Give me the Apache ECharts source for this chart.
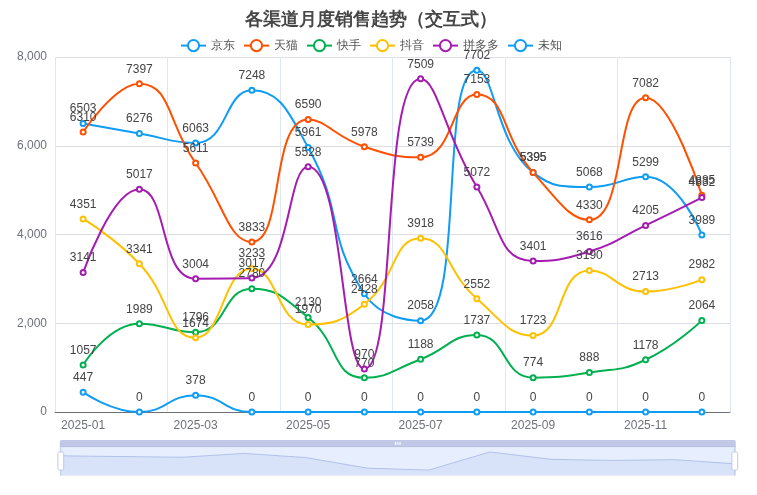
<!DOCTYPE html>
<html>
<head>
    <meta charset="utf-8">
    <script src="https://cdn.jsdelivr.net/npm/echarts@6/dist/echarts.min.js"></script>
    <style type="text/css">
        html, body { margin: 0; padding: 0; }
        #main {
            width: 742px;
            height: 495px;
        }
    </style>
</head>
<body>
    <div id="main"></div>
    <script>
        // 月份
        const months = ['2025-01', '2025-02', '2025-03', '2025-04', '2025-05', '2025-06',
            '2025-07', '2025-08', '2025-09', '2025-10', '2025-11', '2025-12'];
        // 各渠道数据
        const jd = [6503, 6276, 6063, 7248, 5961, 2664, 2058, 7702, 5395, 5068, 5299, 3989];
        const tmall = [6310, 7397, 5611, 3833, 6590, 5978, 5739, 7153, 5395, 4330, 7082, 4885];
        const kuaishou = [1057, 1989, 1796, 2780, 2130, 770, 1188, 1737, 774, 888, 1178, 2064];
        const douyin = [4351, 3341, 1674, 3233, 1970, 2428, 3918, 2552, 1723, 3190, 2713, 2982];
        const pdd = [3141, 5017, 3004, 3017, 5528, 970, 7509, 5072, 3401, 3616, 4205, 4832];
        const unknown = [447, 0, 378, 0, 0, 0, 0, 0, 0, 0, 0, 0];

        const channels = [
            { name: '京东', data: jd, color: '#0f9cf5' },
            { name: '天猫', data: tmall, color: '#ff5000' },
            { name: '快手', data: kuaishou, color: '#00b050' },
            { name: '抖音', data: douyin, color: '#ffc000' },
            { name: '拼多多', data: pdd, color: '#a41cb0' },
            { name: '未知', data: unknown, color: '#0f9cf5' }
        ];

        const myChart = echarts.init(document.getElementById('main'));

        myChart.setOption({
            animation: false,
            title: {
                text: '各渠道月度销售趋势（交互式）',
                left: 'center',
                top: 6,
                textStyle: { fontSize: 18, fontWeight: 'bold', color: '#464646' }
            },
            tooltip: { trigger: 'axis' },
            legend: {
                top: 34,
                data: channels.map(c => c.name),
                textStyle: { color: '#555', fontSize: 12 }
            },
            grid: { left: 55, right: 12, top: 57, bottom: 83 },
            xAxis: {
                type: 'category',
                data: months,
                axisTick: { show: false },
                axisLine: { lineStyle: { color: '#6e7079' } },
                axisLabel: { interval: 1, color: '#6e7079', fontSize: 12 },
                splitLine: { show: true, interval: 1, lineStyle: { color: '#e0e6f1' } }
            },
            yAxis: {
                type: 'value',
                min: 0,
                max: 8000,
                interval: 2000,
                axisLabel: { color: '#6e7079' }
            },
            dataZoom: [
                { type: 'inside' },
                { type: 'slider', left: 57, right: 9, top: 440, height: 29 }
            ],
            series: channels.map(c => ({
                name: c.name,
                type: 'line',
                smooth: true,
                data: c.data,
                symbol: 'emptyCircle',
                symbolSize: 5,
                itemStyle: { color: c.color },
                lineStyle: { width: 2, color: c.color },
                label: { show: true, position: 'top', color: '#444', fontSize: 12 }
            }))
        });
    </script>
</body>
</html>
